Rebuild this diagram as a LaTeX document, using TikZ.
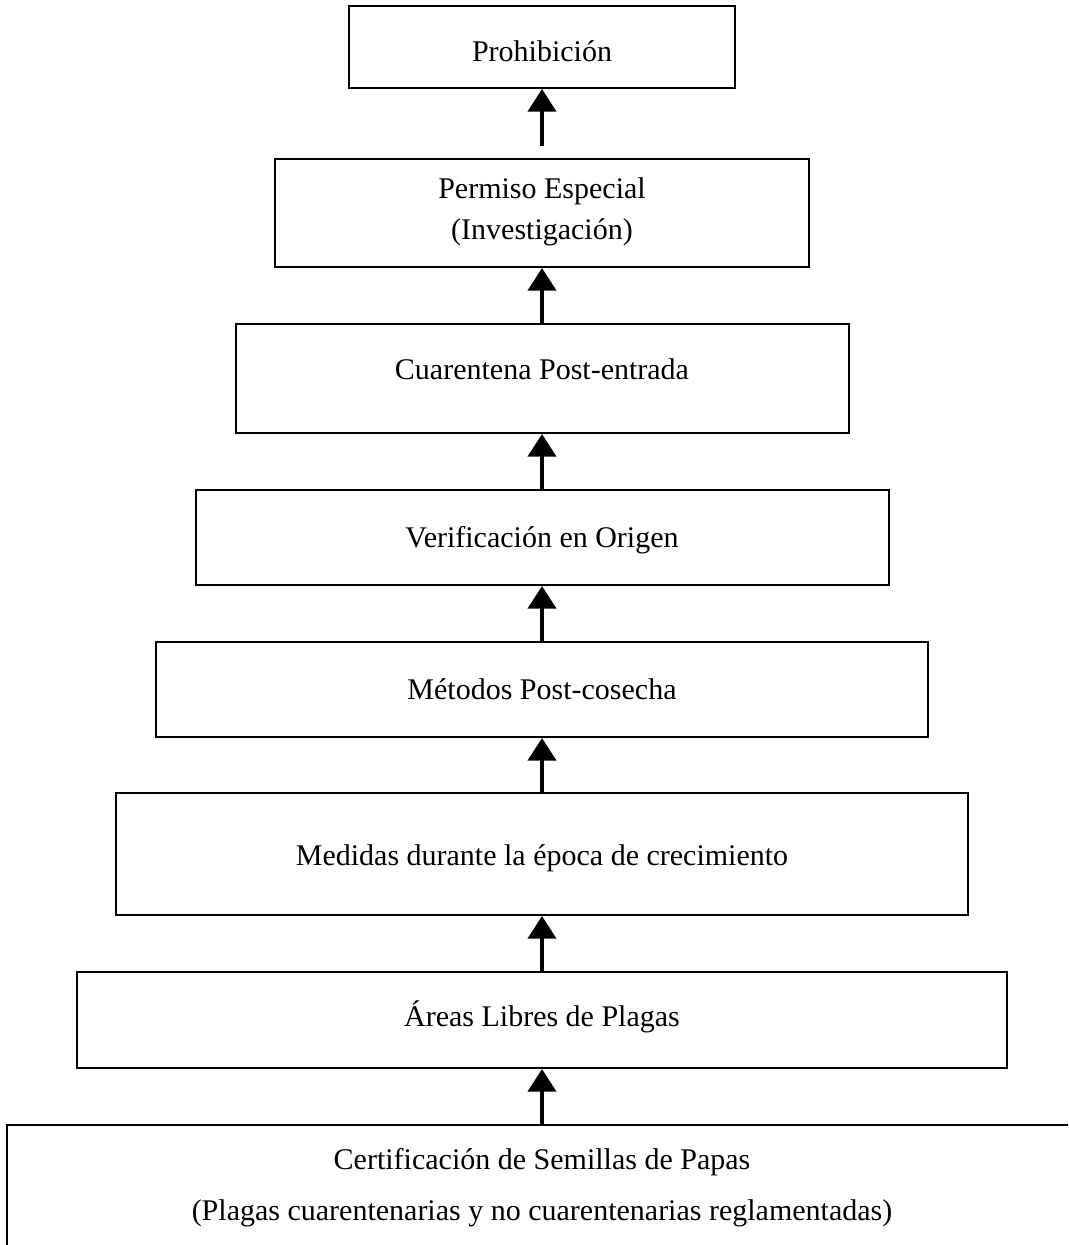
\documentclass[tikz,border=0pt]{standalone}
\usepackage{fontspec}
\setmainfont{Liberation Serif}
\usetikzlibrary{arrows.meta}
\tikzset{
  box/.style={draw=black, line width=1.5pt, rectangle, inner sep=0pt, fill=none},
  lbl/.style={anchor=base, inner sep=0pt, font=\fontsize{22.5}{27}\selectfont},
  uparrow/.style={line width=3pt, -{Triangle[width=21pt,length=17pt]}}
}
\begin{document}
\begin{tikzpicture}[x=0.75pt,y=-0.75pt]
\clip (0,0) rectangle (1068,1245);
\fill[white] (0,0) rectangle (1068,1245);
% boxes
\node[box, minimum width=289.5pt, minimum height=61.5pt] (n1) at (542,47) {};
\node[box, minimum width=400.5pt, minimum height=81pt] (n2) at (542,213) {};
\node[box, minimum width=459.75pt, minimum height=81.75pt] (n3) at (542,378.5) {};
\node[box, minimum width=519.75pt, minimum height=71.25pt] (n4) at (542,537.5) {};
\node[box, minimum width=579pt, minimum height=71.25pt] (n5) at (542,689.5) {};
\node[box, minimum width=639pt, minimum height=91.5pt] (n6) at (542,854) {};
\node[box, minimum width=697.5pt, minimum height=72pt] (n7) at (542,1020) {};
\node[box, minimum width=802.5pt, minimum height=105pt, anchor=north] (n8) at (542,1124) {};
% labels
\node[lbl] (t1) at (542,62) {Prohibición};
\node[lbl] (t2a) at (542,199) {Permiso Especial};
\node[lbl] (t2b) at (542,239) {(Investigación)};
\node[lbl] (t3) at (542,379) {Cuarentena Post-entrada};
\node[lbl] (t4) at (542,547) {Verificación en Origen};
\node[lbl] (t5) at (542,699) {Métodos Post-cosecha};
\node[lbl] (t6) at (542,865) {Medidas durante la época de crecimiento};
\node[lbl] (t7) at (542,1026) {Áreas Libres de Plagas};
\node[lbl] (t8a) at (542,1169) {Certificación de Semillas de Papas};
\node[lbl] (t8b) at (542,1220) {(Plagas cuarentenarias y no cuarentenarias reglamentadas)};
% arrows
\draw[uparrow, shorten <=9pt] (n2.north) -- (n1.south);
\draw[uparrow] (n3.north) -- (n2.south);
\draw[uparrow] (n4.north) -- (n3.south);
\draw[uparrow] (n5.north) -- (n4.south);
\draw[uparrow] (n6.north) -- (n5.south);
\draw[uparrow] (n7.north) -- (n6.south);
\draw[uparrow] (n8.north) -- (n7.south);
\end{tikzpicture}
\end{document}
